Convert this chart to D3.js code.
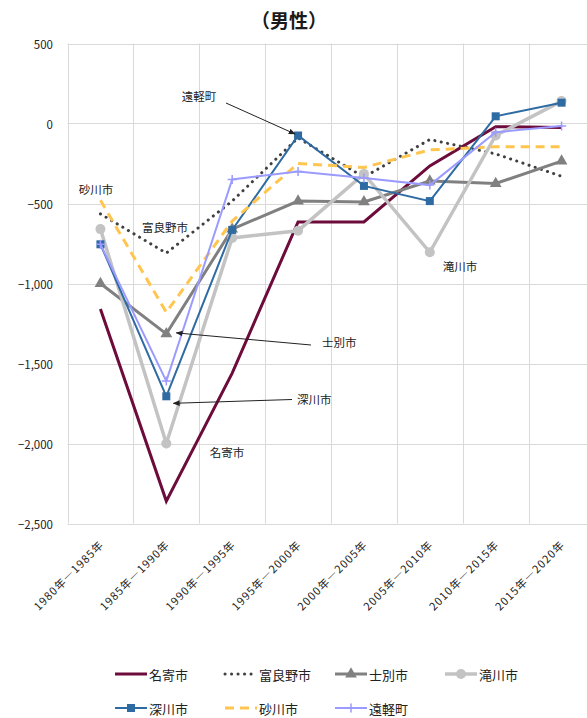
<!DOCTYPE html>
<html>
<head>
<meta charset="utf-8">
<script src="https://cdn.jsdelivr.net/npm/d3@7"></script>
<style>
  body { margin: 0; background: #fff; }
  svg { display: block; font-family: "Noto Sans CJK JP", "Noto Sans", sans-serif; }
</style>
</head>
<body>
<svg id="chart" width="587" height="718"></svg>
<script>
// Five-year periods
const periods = ["1980年―1985年", "1985年―1990年", "1990年―1995年", "1995年―2000年",
                 "2000年―2005年", "2005年―2010年", "2010年―2015年", "2015年―2020年"];

// Net migration, male (persons)
const nayoro   = [-1160, -2360, -1560, -615, -615, -265,  -20,  -25];
const furano   = [ -565,  -810,  -485,  -90, -335, -100, -190, -330];
const shibetsu = [-1000, -1315,  -660, -485, -490, -360, -375, -235];
const takikawa = [ -660, -2000,  -715, -670, -315, -805,  -75,  140];
const fukagawa = [ -755, -1705,  -665,  -75, -390, -485,   45,  130];
const sunagawa = [ -480, -1180,  -610, -250, -275, -165, -145, -145];
const engaru   = [ -755, -1610,  -350, -300, -340, -385,  -55,  -15];

const seriesNames = ["名寄市", "富良野市", "士別市", "滝川市", "深川市", "砂川市", "遠軽町"];
const seriesValues = [nayoro, furano, shibetsu, takikawa, fukagawa, sunagawa, engaru];

const yTicks = [500, 0, -500, -1000, -1500, -2000, -2500];

// Line / marker styles per series
const styles = {
  "名寄市":  { color: "#6d0b3b", width: 3,   dash: null,    marker: null },
  "富良野市": { color: "#404040", width: 3,   dash: "0.1,6.4", cap: "round", marker: null },
  "士別市":  { color: "#808080", width: 3,   dash: null,    marker: "triangle" },
  "滝川市":  { color: "#c3c3c3", width: 3.5, dash: null,    marker: "circle" },
  "深川市":  { color: "#2f6ba3", width: 2,   dash: null,    marker: "square" },
  "砂川市":  { color: "#ffc54f", width: 3,   dash: "9,6",   marker: null },
  "遠軽町":  { color: "#9b9bff", width: 2,   dash: null,    marker: "plus" }
};

const svg = d3.select("#chart");
const plot = { left: 67.5, right: 594.5, top: 43.5, bottom: 523.5 };

const x = d3.scaleBand().domain(periods).range([plot.left, plot.right]).padding(0);
const cx = d => x(d) + x.bandwidth() / 2;
const y = d3.scaleLinear().domain([-2500, 500]).range([plot.bottom, plot.top]);

// Title
svg.append("text")
  .attr("x", 289).attr("y", 19)
  .attr("text-anchor", "middle").attr("dominant-baseline", "central")
  .attr("font-size", 19).attr("font-weight", 700).attr("fill", "#1a1a1a")
  .text("（男性）");

// Gridlines
const grid = svg.append("g").attr("stroke", "#d9d9d9").attr("stroke-width", 1);
grid.selectAll("line.h").data(yTicks).join("line")
  .attr("class", "h")
  .attr("x1", plot.left).attr("x2", plot.right)
  .attr("y1", d => Math.round(y(d)) + 0.5).attr("y2", d => Math.round(y(d)) + 0.5);
grid.selectAll("line.v").data(periods).join("line")
  .attr("class", "v")
  .attr("x1", d => Math.round(x(d)) + 0.5).attr("x2", d => Math.round(x(d)) + 0.5)
  .attr("y1", plot.top).attr("y2", plot.bottom);

// Y axis labels
const fmt = d3.format(",");
svg.append("g").selectAll("text").data(yTicks).join("text")
  .attr("x", 53).attr("y", d => y(d))
  .attr("text-anchor", "end").attr("dominant-baseline", "central")
  .attr("font-size", 11.5).attr("fill", "#222")
  .text(d => fmt(d));

// X axis labels, rotated
svg.append("g").selectAll("text").data(periods).join("text")
  .attr("transform", d => `translate(${cx(d) + 4},${plot.bottom + 22}) rotate(-45)`)
  .attr("text-anchor", "end")
  .attr("font-size", 11).attr("letter-spacing", 1).attr("fill", "#222")
  .text(d => d);

// Marker shapes
function drawMarker(g, type, color, px, py) {
  if (type === "triangle") {
    g.append("path").attr("d", d3.symbol(d3.symbolTriangle, 60)())
      .attr("transform", `translate(${px},${py})`).attr("fill", color);
  } else if (type === "circle") {
    g.append("circle").attr("cx", px).attr("cy", py).attr("r", 5).attr("fill", color);
  } else if (type === "square") {
    const s = 8;
    g.append("rect").attr("x", px - s / 2).attr("y", py - s / 2).attr("width", s).attr("height", s)
      .attr("fill", color);
  } else if (type === "plus") {
    const s = 4.5;
    g.append("path").attr("d", `M${px - s},${py}H${px + s}M${px},${py - s}V${py + s}`)
      .attr("stroke", color).attr("stroke-width", 1.5).attr("fill", "none");
  }
}

// Series lines
const line = d3.line().x((d, i) => cx(periods[i])).y(d => y(d));
const seriesG = svg.append("g");
seriesNames.forEach((name, k) => {
  const st = styles[name];
  const vals = seriesValues[k];
  const g = seriesG.append("g");
  g.append("path").datum(vals)
    .attr("d", line)
    .attr("fill", "none")
    .attr("stroke", st.color)
    .attr("stroke-width", st.width)
    .attr("stroke-linejoin", "miter")
    .attr("stroke-linecap", st.cap || "butt")
    .attr("stroke-dasharray", st.dash);
  if (st.marker) {
    vals.forEach((v, i) => drawMarker(g, st.marker, st.color, cx(periods[i]), y(v)));
  }
});

// Callout labels
svg.append("defs").append("marker")
  .attr("id", "arrowhead").attr("viewBox", "0 0 10 10")
  .attr("refX", 9).attr("refY", 5)
  .attr("markerWidth", 7).attr("markerHeight", 7)
  .attr("markerUnits", "userSpaceOnUse")
  .attr("orient", "auto")
  .append("path").attr("d", "M0,1L10,5L0,9Z").attr("fill", "#222");

const ann = svg.append("g").attr("font-size", 11.5).attr("fill", "#222");
const label = (t, px, py, anchor = "middle") => ann.append("text")
  .attr("x", px).attr("y", py).attr("text-anchor", anchor)
  .attr("dominant-baseline", "central").text(t);
const arrow = (x1, y1, x2, y2) => ann.append("line")
  .attr("x1", x1).attr("y1", y1).attr("x2", x2).attr("y2", y2)
  .attr("stroke", "#222").attr("stroke-width", 1).attr("marker-end", "url(#arrowhead)");

const p85 = cx(periods[1]), p95 = cx(periods[3]);
label("遠軽町", 199, 96);
arrow(226, 103, p95 - 3, y(fukagawa[3]) - 1.5);
label("砂川市", 96, 189);
label("富良野市", 165, 227);
label("士別市", 322, 342, "start");
arrow(311, 345, p85 + 10, y(shibetsu[1]) - 1);
label("深川市", 297, 399, "start");
arrow(292, 399.5, p85 + 7, y(fukagawa[1]) + 7);
label("名寄市", 227, 452);
label("滝川市", 460, 266);

// Legend
const legendCols = [115, 225, 335, 445];
const legendRows = [674, 708];
const lg = svg.append("g").attr("font-size", 13).attr("fill", "#222");
seriesNames.forEach((name, k) => {
  const st = styles[name];
  const lx = legendCols[k % 4], ly = legendRows[Math.floor(k / 4)];
  lg.append("line")
    .attr("x1", lx).attr("x2", lx + 32).attr("y1", ly).attr("y2", ly)
    .attr("stroke", st.color).attr("stroke-width", st.width)
    .attr("stroke-linecap", st.cap || "butt")
    .attr("stroke-dasharray", st.dash);
  if (st.marker) drawMarker(lg, st.marker, st.color, lx + 16, ly);
  lg.append("text").attr("x", lx + 34).attr("y", ly)
    .attr("dominant-baseline", "central").text(name);
});
</script>
</body>
</html>
